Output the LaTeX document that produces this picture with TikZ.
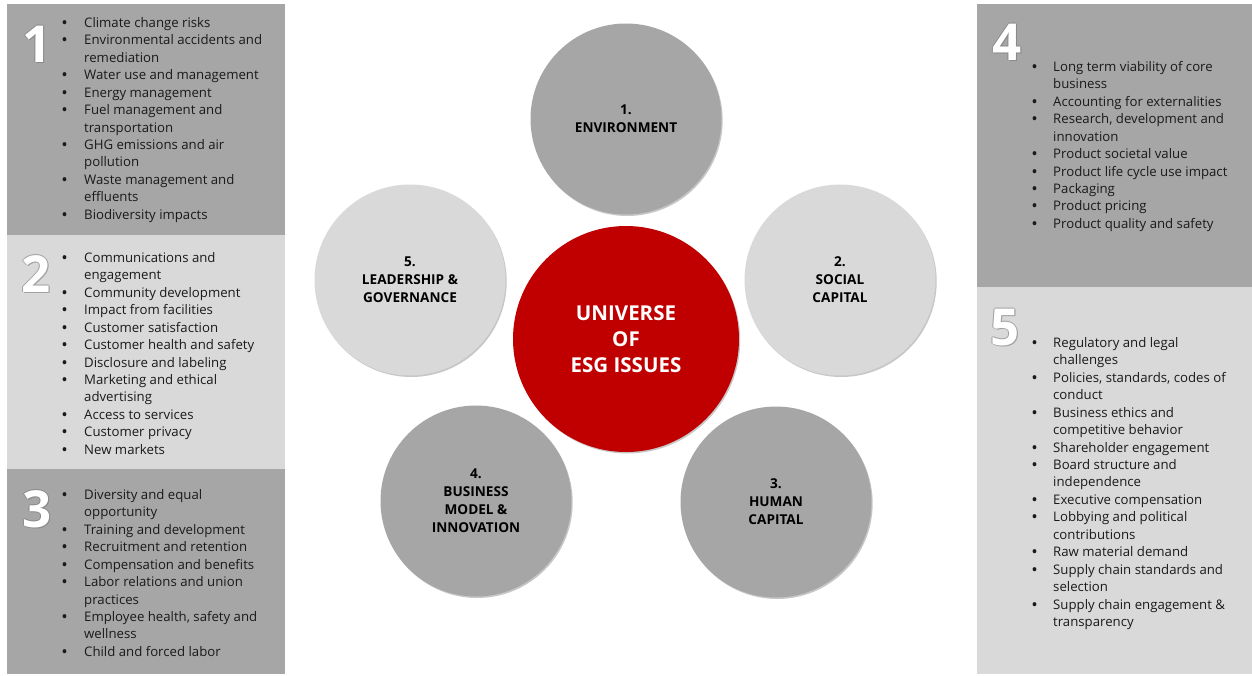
\documentclass[tikz,border=0pt]{standalone}
\usepackage{fontspec}
\setmainfont{Open Sans}
\usetikzlibrary{shadows}
\definecolor{dk}{HTML}{A6A6A6}
\definecolor{lt}{HTML}{D9D9D9}
\definecolor{esgred}{HTML}{C00000}
\definecolor{txt}{HTML}{1A1A1A}
\definecolor{numshade}{HTML}{8A8A8A}
\newcommand{\bp}{\textbf{\textbullet}}
\newcommand{\bignumber}[5]{% name, x, y, digit, outline colour
  \foreach \dx/\dy [count=\k] in {-0.8/0, 0.8/0, 0/-0.8, 0/0.8, 1.3/1.3} {
    \node[bignum, text=#5] (#1s\k) at (#2+\dx,#3+\dy) {#4};
  }
  \node[bignum, text=white] (#1) at (#2,#3) {#4};
}
\tikzset{
  panel/.style={inner sep=0pt, anchor=north west},
  listtxt/.style={inner sep=0pt, anchor=base west, text=txt, font=\fontsize{13.2}{17.45}\selectfont},
  bignum/.style={inner sep=0pt, anchor=base, font=\bfseries\fontsize{51}{51}\selectfont},
  circ/.style={circle, inner sep=0pt, minimum size=191pt, align=center, text=black,
    font=\bfseries\fontsize{13.6}{18}\selectfont,
    drop shadow={shadow xshift=1.2pt, shadow yshift=-1.5pt, opacity=0.22, fill=black}},
  core/.style={circle, inner sep=0pt, minimum size=226pt, align=center, text=white, fill=esgred,
    font=\bfseries\fontsize{20.5}{26}\selectfont,
    drop shadow={shadow xshift=1.2pt, shadow yshift=-1.5pt, opacity=0.22, fill=black}}
}
\begin{document}
\begin{tikzpicture}[x=1pt,y=-1pt]
\useasboundingbox (0,0) rectangle (1252,675);
\fill[white] (0,0) rectangle (1252,675);
% side panels
\node[panel, fill=dk, minimum width=278pt, minimum height=231pt] (p1) at (7,4) {};
\node[panel, fill=lt, minimum width=278pt, minimum height=234pt] (p2) at (7,235) {};
\node[panel, fill=dk, minimum width=278pt, minimum height=205pt] (p3) at (7,469) {};
\node[panel, fill=dk, minimum width=275pt, minimum height=283pt] (p4) at (977,4) {};
\node[panel, fill=lt, minimum width=275pt, minimum height=387pt] (p5) at (977,287) {};
% big numbers
\bignumber{n1}{37}{62}{1}{numshade}
\bignumber{n2}{36}{292}{2}{numshade!80}
\bignumber{n3}{37}{527}{3}{numshade}
\bignumber{n4}{1007}{60}{4}{numshade}
\bignumber{n5}{1005}{345}{5}{numshade!80}
% lists
\node[listtxt] (l1) at (62,27.3) {\begin{tabular}[t]{@{}p{22pt}@{}l@{}}
\bp&Climate change risks\\
\bp&Environmental accidents and\\
&remediation\\
\bp&Water use and management\\
\bp&Energy management\\
\bp&Fuel management and\\
&transportation\\
\bp&GHG emissions and air\\
&pollution\\
\bp&Waste management and\\
&effluents\\
\bp&Biodiversity impacts
\end{tabular}};
\node[listtxt] (l2) at (62,262.3) {\begin{tabular}[t]{@{}p{22pt}@{}l@{}}
\bp&Communications and\\
&engagement\\
\bp&Community development\\
\bp&Impact from facilities\\
\bp&Customer satisfaction\\
\bp&Customer health and safety\\
\bp&Disclosure and labeling\\
\bp&Marketing and ethical\\
&advertising\\
\bp&Access to services\\
\bp&Customer privacy\\
\bp&New markets
\end{tabular}};
\node[listtxt] (l3) at (62,499.3) {\begin{tabular}[t]{@{}p{22pt}@{}l@{}}
\bp&Diversity and equal\\
&opportunity\\
\bp&Training and development\\
\bp&Recruitment and retention\\
\bp&Compensation and benefits\\
\bp&Labor relations and union\\
&practices\\
\bp&Employee health, safety and\\
&wellness\\
\bp&Child and forced labor
\end{tabular}};
\node[listtxt] (l4) at (1032,71.3) {\begin{tabular}[t]{@{}p{21pt}@{}l@{}}
\bp&Long term viability of core\\
&business\\
\bp&Accounting for externalities\\
\bp&Research, development and\\
&innovation\\
\bp&Product societal value\\
\bp&Product life cycle use impact\\
\bp&Packaging\\
\bp&Product pricing\\
\bp&Product quality and safety
\end{tabular}};
\node[listtxt] (l5) at (1032,347.3) {\begin{tabular}[t]{@{}p{21pt}@{}l@{}}
\bp&Regulatory and legal\\
&challenges\\
\bp&Policies, standards, codes of\\
&conduct\\
\bp&Business ethics and\\
&competitive behavior\\
\bp&Shareholder engagement\\
\bp&Board structure and\\
&independence\\
\bp&Executive compensation\\
\bp&Lobbying and political\\
&contributions\\
\bp&Raw material demand\\
\bp&Supply chain standards and\\
&selection\\
\bp&Supply chain engagement \&\\
&transparency
\end{tabular}};
% circles
\node[circ, fill=dk] (c1) at (626,119) {1.\\ENVIRONMENT};
\node[circ, fill=lt] (c2) at (840,280) {2.\\SOCIAL\\CAPITAL};
\node[circ, fill=dk] (c3) at (776,502) {3.\\HUMAN\\CAPITAL};
\node[circ, fill=dk] (c4) at (476,501) {4.\\BUSINESS\\MODEL \&\\INNOVATION};
\node[circ, fill=lt] (c5) at (410,280) {5.\\LEADERSHIP \&\\GOVERNANCE};
\node[core] (c0) at (626,339) {UNIVERSE\\OF\\ESG ISSUES};
\end{tikzpicture}
\end{document}
